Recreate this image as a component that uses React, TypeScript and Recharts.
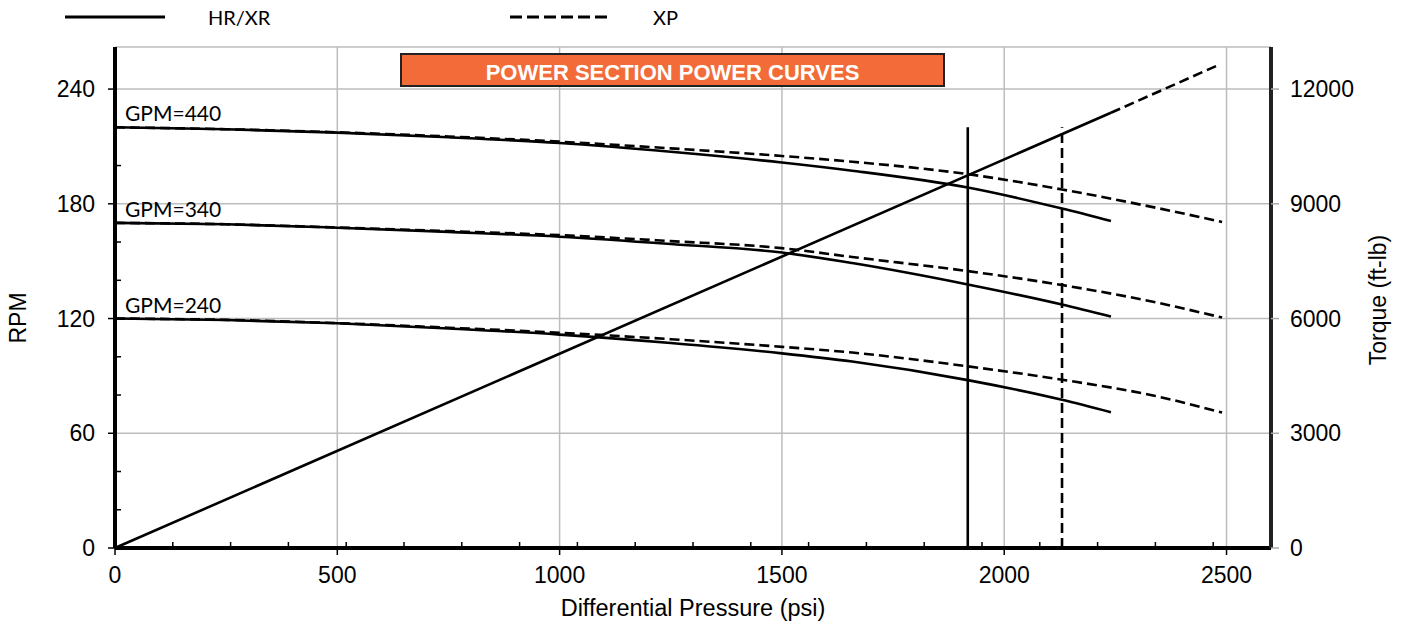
import React from 'react';
import { LineChart, Line, XAxis, YAxis, CartesianGrid, ReferenceLine } from 'recharts';

const W = 1406;
const H = 625;

// ---- axes / ticks ----
const xTicks = [0, 500, 1000, 1500, 2000, 2500];
const xMinorTicks = [130, 260, 390, 520, 650, 780, 910, 1040, 1170, 1300, 1430, 1560, 1690, 1820, 1950, 2080, 2210, 2340, 2470];
const rpmTicks = [0, 60, 120, 180, 240];
const rpmMinorTicks = [20, 40, 80, 100, 140, 160, 200, 220];
const torqueTicks = [0, 3000, 6000, 9000, 12000];

// ---- HR/XR (solid) curves ----
const psiHR = [0, 250, 500, 750, 1000, 1250, 1500, 1658, 1918, 2130, 2240];
const hr440 = [220, 219, 217.2, 214.8, 211.8, 207.2, 201.6, 197.3, 188.5, 177.5, 171];
const hr340 = [170, 169.3, 167.5, 165.3, 162.8, 159, 154.5, 149, 137.8, 127.3, 121];
const hr240 = [120, 119.2, 117.5, 114.8, 111.6, 107.2, 101.8, 97.5, 87.8, 77.5, 71];

// ---- XP (dashed) curves ----
const psiXP = [0, 250, 500, 750, 1000, 1250, 1500, 1658, 1918, 2130, 2340, 2490];
const xp440 = [220, 219, 217.4, 215.2, 212.5, 209, 205, 202, 195.5, 187.5, 178, 170.5];
const xp340 = [170, 169.3, 167.6, 165.7, 163.6, 160.5, 156.8, 152.2, 144.8, 137.5, 128.5, 120.5];
const xp240 = [120, 119.3, 117.6, 115.2, 112.6, 109.2, 105.2, 102.2, 95, 88, 79.5, 70.8];

// ---- torque line ----
const psiTorqueHR = [0, 2240];
const torqueHR = [0, 11380];
const psiTorqueXP = [2240, 2480];
const torqueXP = [11380, 12620];

// ---- max differential pressure limits ----
const hrLimitPsi = [1918, 1918];
const xpLimitPsi = [2130, 2130];
const limitRpm = [0, 220];

const gpmLabels = ['GPM=440', 'GPM=340', 'GPM=240'];

const zip = (xs: number[], ys: number[]) => xs.map((x, i) => ({ x, y: ys[i] }));

const FONT = '"Liberation Sans", Arial, sans-serif';
const LFONT = "Lato, 'Open Sans', sans-serif";
const tickStyle = { fontSize: 23, fill: '#000', fontFamily: FONT };
const DASH = '10 5';
const SW = 2.6;
const blank = () => '';

export default function App() {
  return (
    <div style={{ position: 'absolute', left: 0, top: 0, width: W, height: H, background: '#fff' }}>
      <LineChart width={W} height={H} margin={{ top: 47, right: 35, bottom: 27, left: 55 }}>
        <CartesianGrid stroke="#bdbdbd" strokeWidth={1.5} />
        <XAxis
          dataKey="x"
          type="number"
          domain={[0, 2600]}
          ticks={xTicks}
          interval={0}
          allowDataOverflow
          height={50}
          tickSize={7}
          tickMargin={12}
          axisLine={{ stroke: '#000', strokeWidth: 4 }}
          tickLine={{ stroke: '#000', strokeWidth: 1.5 }}
          tick={tickStyle}
        />
        <XAxis
          xAxisId="minor"
          dataKey="x"
          type="number"
          domain={[0, 2600]}
          ticks={xMinorTicks}
          interval={0}
          allowDataOverflow
          mirror
          height={1}
          axisLine={false}
          tickFormatter={blank}
          tickSize={6}
          tickLine={{ stroke: '#000', strokeWidth: 1.5 }}
        />
        <XAxis
          xAxisId="top"
          orientation="top"
          dataKey="x"
          type="number"
          domain={[0, 2600]}
          allowDataOverflow
          height={0}
          tick={false}
          tickLine={false}
          axisLine={{ stroke: '#000', strokeWidth: 3 }}
        />
        <YAxis
          type="number"
          domain={[0, 262]}
          ticks={rpmTicks}
          interval={0}
          allowDataOverflow
          width={60}
          tickSize={7}
          tickMargin={13}
          axisLine={{ stroke: '#000', strokeWidth: 4 }}
          tickLine={{ stroke: '#000', strokeWidth: 1.5 }}
          tick={tickStyle}
        />
        <YAxis
          yAxisId="minorL"
          type="number"
          domain={[0, 262]}
          ticks={rpmMinorTicks}
          interval={0}
          allowDataOverflow
          mirror
          width={1}
          axisLine={false}
          tickFormatter={blank}
          tickSize={6}
          tickLine={{ stroke: '#000', strokeWidth: 1.5 }}
        />
        <YAxis
          yAxisId="right"
          orientation="right"
          type="number"
          domain={[0, 13100]}
          ticks={torqueTicks}
          interval={0}
          allowDataOverflow
          width={100}
          tickSize={8}
          tickMargin={11}
          axisLine={{ stroke: '#222', strokeWidth: 4 }}
          tickLine={{ stroke: '#aaa', strokeWidth: 1.5 }}
          tick={tickStyle}
        />

        <ReferenceLine x={0} stroke="#000" strokeWidth={4} />
        <ReferenceLine y={0} stroke="#000" strokeWidth={4} />

        <Line data={zip(psiHR, hr440)} dataKey="y" type="monotone" stroke="#000" strokeWidth={SW} dot={false} isAnimationActive={false} />
        <Line data={zip(psiHR, hr340)} dataKey="y" type="monotone" stroke="#000" strokeWidth={SW} dot={false} isAnimationActive={false} />
        <Line data={zip(psiHR, hr240)} dataKey="y" type="monotone" stroke="#000" strokeWidth={SW} dot={false} isAnimationActive={false} />
        <Line data={zip(psiXP, xp440)} dataKey="y" type="monotone" stroke="#000" strokeWidth={SW} strokeDasharray={DASH} dot={false} isAnimationActive={false} />
        <Line data={zip(psiXP, xp340)} dataKey="y" type="monotone" stroke="#000" strokeWidth={SW} strokeDasharray={DASH} dot={false} isAnimationActive={false} />
        <Line data={zip(psiXP, xp240)} dataKey="y" type="monotone" stroke="#000" strokeWidth={SW} strokeDasharray={DASH} dot={false} isAnimationActive={false} />
        <Line data={zip(psiTorqueHR, torqueHR)} yAxisId="right" dataKey="y" type="linear" stroke="#000" strokeWidth={SW} dot={false} isAnimationActive={false} />
        <Line data={zip(psiTorqueXP, torqueXP)} yAxisId="right" dataKey="y" type="linear" stroke="#000" strokeWidth={SW} strokeDasharray={DASH} dot={false} isAnimationActive={false} />
        <Line data={zip(hrLimitPsi, limitRpm)} dataKey="y" type="linear" stroke="#000" strokeWidth={SW} dot={false} isAnimationActive={false} />
        <Line data={zip(xpLimitPsi, limitRpm)} dataKey="y" type="linear" stroke="#000" strokeWidth={SW} strokeDasharray={DASH} dot={false} isAnimationActive={false} />
      </LineChart>

      <div
        style={{
          position: 'absolute',
          left: 400,
          top: 53,
          width: 545,
          height: 34,
          boxSizing: 'border-box',
          background: '#F26B38',
          border: '2px solid #222',
          color: '#fff',
          fontFamily: FONT,
          fontWeight: 'bold',
          fontSize: 22,
          lineHeight: '35px',
          overflow: 'hidden',
          textAlign: 'center',
        }}
      >
        POWER SECTION POWER CURVES
      </div>

      <svg width={W} height={H} style={{ position: 'absolute', left: 0, top: 0, pointerEvents: 'none' }}>
        <line x1={65} x2={165} y1={17} y2={17} stroke="#000" strokeWidth={3} />
        <text x={208} y={25} fontFamily={LFONT} fontSize={20} fill="#000">HR/XR</text>
        <line x1={510} x2={608} y1={17} y2={17} stroke="#000" strokeWidth={3} strokeDasharray="12 5" />
        <text x={653} y={25} fontFamily={LFONT} fontSize={20} fill="#000">XP</text>

        <text x={125} y={121} fontFamily={LFONT} fontSize={21} fill="#000">{gpmLabels[0]}</text>
        <text x={125} y={217} fontFamily={LFONT} fontSize={21} fill="#000">{gpmLabels[1]}</text>
        <text x={125} y={313} fontFamily={LFONT} fontSize={21} fill="#000">{gpmLabels[2]}</text>

        <text x={693} y={616} textAnchor="middle" fontFamily={FONT} fontSize={23.5} fill="#000">Differential Pressure (psi)</text>
        <text x={26} y={318} textAnchor="middle" transform="rotate(-90 26 318)" fontFamily={FONT} fontSize={23} fill="#000">RPM</text>
        <text x={1386} y={300} textAnchor="middle" transform="rotate(-90 1386 300)" fontFamily={FONT} fontSize={23} fill="#000">Torque (ft-lb)</text>
      </svg>
    </div>
  );
}
